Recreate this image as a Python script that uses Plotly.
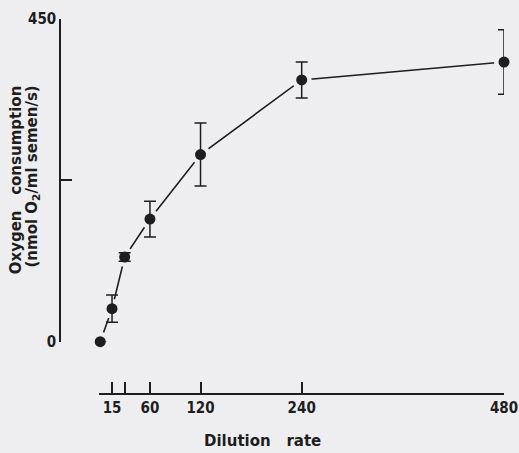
import plotly.graph_objects as go

dilution = [1, 15, 30, 60, 120, 240, 480]
oxygen = [0, 46, 118, 171, 261, 365, 390]
err = [0, 19, 6, 25, 44, 25, 45]

x_tickvals = [15, 60, 120, 240, 480]
x_ticktext = ["15", "60", "120", "240", "480"]
x_minorvals = [0, 30]
y_tickvals = [0, 450]
y_ticktext = ["0", "450"]
y_minorvals = [225]

bg = "#eeeef1"
ink = "#1e1e1e"
tickfont = dict(family="DejaVu Sans Condensed, Liberation Sans Narrow, DejaVu Sans", size=15, color=ink, weight="bold")
titlefont = dict(family="DejaVu Sans, Liberation Sans", size=15, color=ink, weight="bold")

fig = go.Figure()
# connecting line with background-coloured masks so the line stops short of each point
fig.add_trace(go.Scatter(
    x=dilution, y=oxygen, mode="lines+markers",
    line=dict(color=ink, width=1.6),
    marker=dict(size=20, color=bg, line=dict(width=0)),
    cliponaxis=False, showlegend=False, hoverinfo="skip"))
# points with error bars
fig.add_trace(go.Scatter(
    x=dilution, y=oxygen, mode="markers",
    marker=dict(size=11, color=ink),
    error_y=dict(type="data", array=err, visible=True, color=ink, thickness=1.5, width=6),
    cliponaxis=False, showlegend=False))

axis_common = dict(showline=True, linecolor=ink, linewidth=1.5,
                   ticks="inside", ticklen=11, tickwidth=1.5, tickcolor=ink,
                   tickfont=tickfont, showgrid=False, zeroline=False, automargin=False)

fig.update_layout(
    width=519, height=453,
    margin=dict(l=60, r=15, t=19, b=59),
    paper_bgcolor=bg, plot_bgcolor=bg,
    xaxis=dict(domain=[0.0887, 1], range=[0, 480], anchor="free", position=0,
               tickmode="array", tickvals=x_tickvals, ticktext=x_ticktext,
               minor=dict(tickmode="array", tickvals=x_minorvals, ticks="inside",
                          ticklen=11, tickwidth=1.5, tickcolor=ink, showgrid=False),
               **axis_common),
    yaxis=dict(domain=[0.1395, 1], range=[0, 450], anchor="free", position=0,
               tickmode="array", tickvals=y_tickvals, ticktext=y_ticktext,
               minor=dict(tickmode="array", tickvals=y_minorvals, ticks="inside",
                          ticklen=11, tickwidth=1.5, tickcolor=ink, showgrid=False),
               **axis_common),
    annotations=[
        dict(text="Dilution   rate", x=0.455, y=-0.125, xref="paper", yref="paper",
             xanchor="center", yanchor="middle", showarrow=False, font=titlefont),
        dict(text="Oxygen   consumption", x=-0.099, y=0.57, xref="paper", yref="paper",
             xanchor="center", yanchor="middle", textangle=-90, showarrow=False, font=titlefont),
        dict(text="(nmol O<sub>2</sub>/ml semen/s)", x=-0.063, y=0.58, xref="paper", yref="paper",
             xanchor="center", yanchor="middle", textangle=-90, showarrow=False, font=titlefont),
    ],
)

fig.write_html("out.html", config={"displayModeBar": False},
               post_script="document.body.style.margin='0';document.body.style.background='%s';" % bg)
